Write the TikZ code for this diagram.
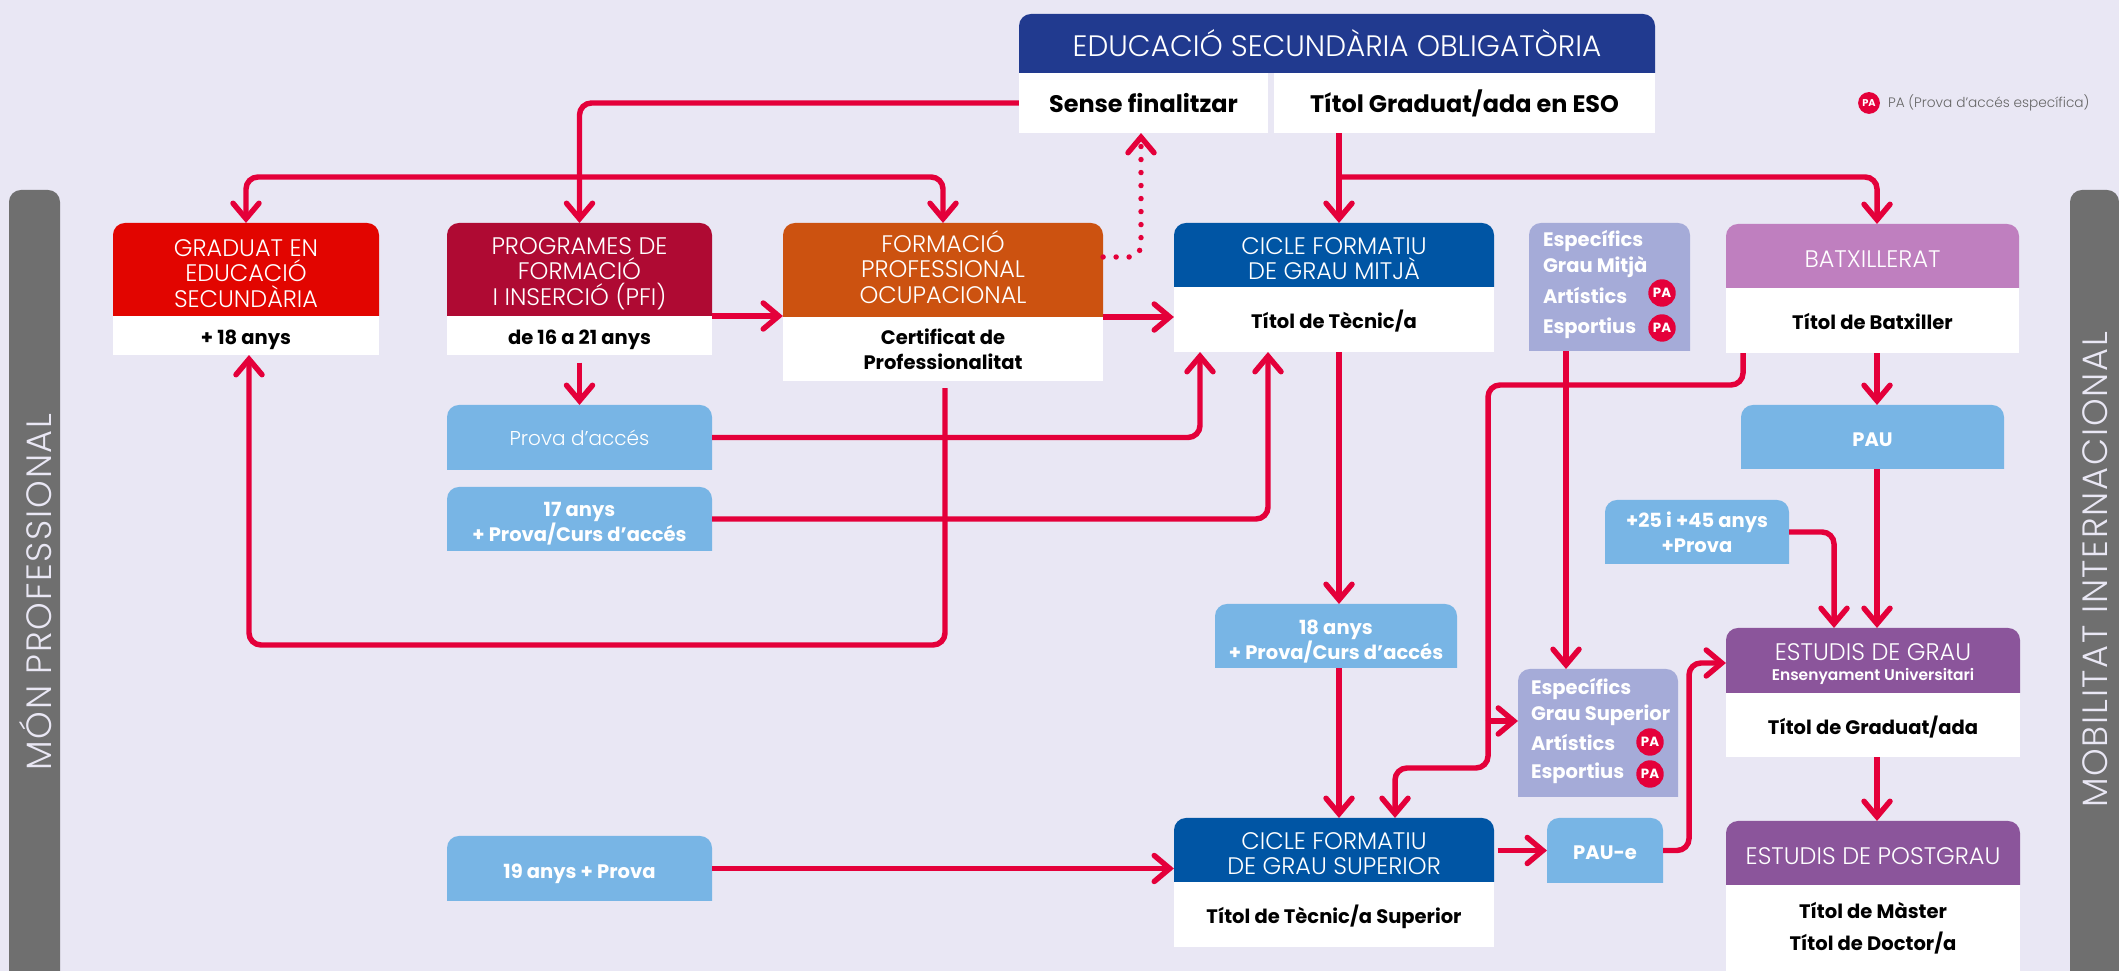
\documentclass[tikz,border=0pt]{standalone}
\usepackage{fontspec}
\setmainfont{Poppins}
\newfontfamily\thinfont{Poppins Light}
\newfontfamily\sidefont[LetterSpace=5]{Poppins Light}
\newcommand*{\headfont}{\thinfont\fontsize{6.8}{7.2}\selectfont}
\newcommand*{\bodyfont}{\bfseries\fontsize{5.55}{7.2}\selectfont}
\definecolor{page}{HTML}{E9E7F4}
\definecolor{bar}{HTML}{6F6F6F}
\definecolor{link}{HTML}{E4003A}
\definecolor{eso}{HTML}{213A8F}
\definecolor{graduat}{HTML}{E20500}
\definecolor{pfi}{HTML}{AF0A33}
\definecolor{ocupa}{HTML}{CC5210}
\definecolor{cicle}{HTML}{0055A4}
\definecolor{espec}{HTML}{A5ABD8}
\definecolor{batx}{HTML}{BF7FBF}
\definecolor{estudis}{HTML}{8B559B}
\definecolor{acces}{HTML}{78B5E5}
\usetikzlibrary{arrows.meta}
\tikzstyle{base}=[inner sep=0pt, outer sep=0pt]
\tikzset{span/.style n args={4}{minimum width={(#3-#1)*0.28453pt}, minimum height={(#4-#2)*0.28453pt}, at={({(#1+#3)/2},{(#2+#4)/2})}}}
\tikzstyle{whitebox}=[base, fill=white, text=black, align=center, font=\bodyfont]
\tikzstyle{lowered}=[text height=5.2pt, text depth=0pt]
\tikzstyle{overhead}=[base, text=white, align=center, font=\headfont]
\tikzstyle{overbody}=[base, text=white, align=center, font=\bodyfont]
\tikzstyle{conn}=[link, line width=1.55pt, rounded corners=3.4pt]
\tikzstyle{arrow}=[conn, -{Straight Barb[length=4.4pt, width=7.4pt, line cap=round]}]
\tikzstyle{dots}=[arrow, line cap=round, dash pattern=on 0pt off 3.7pt]
\tikzstyle{espline}=[base, anchor=west, text=white, align=left, font=\bodyfont]
\tikzstyle{badge}=[base, circle, fill=link, text=white, minimum size=7.8pt, font=\bfseries\fontsize{3.8}{4}\selectfont]
\tikzstyle{sidetext}=[base, rotate=90, text=page, font=\sidefont\fontsize{10}{12}\selectfont]
% name, colour, left, top, right, bottom, font, text
\newcommand*{\headbox}[8]{
    \fill [#2] (#3,#6) [rounded corners=3.4pt] -- (#3,#4) -- (#5,#4) [sharp corners] -- (#5,#6) -- cycle;
    \node [base, span={#3}{#4}{#5}{#6}, text=white, align=center, font=#7] (#1) {#8};
}
\begin{document}
\begin{tikzpicture}[x=0.01cm, y=-0.01cm]
    \fill [page] (0,0) rectangle (2119,971);
    \path [use as bounding box] (0,0) rectangle (2119,971);

    % side bars
    \headbox{monbar}{bar}{9}{190}{60}{971}{\headfont}{}
    \headbox{mobbar}{bar}{2070}{190}{2119}{971}{\headfont}{}
    \node [sidetext] (montext) at (36,592) {MÓN PROFESSIONAL};
    \node [sidetext] (mobtext) at (2095,570) {MOBILITAT INTERNACIONAL};

    % top
    \headbox{esohead}{eso}{1019}{14}{1655}{73}{\thinfont\fontsize{8.4}{9}\selectfont}{EDUCACIÓ SECUNDÀRIA OBLIGATÒRIA}
    \node [whitebox, span={1019}{73}{1268}{133}, font=\bfseries\fontsize{6.8}{8}\selectfont] (sense) {Sense finalitzar};
    \node [whitebox, span={1274}{73}{1655}{133}, font=\bfseries\fontsize{6.8}{8}\selectfont] (titol) {Títol Graduat/ada en ESO};
    \node [badge, minimum size=6.2pt, font=\bfseries\fontsize{2.8}{3}\selectfont] (legbadge) at (1869,103) {PA};
    \node [base, anchor=west, text=black!60, font=\thinfont\fontsize{3.9}{5}\selectfont] (legtext) at (1888,103) {PA (Prova d’accés específica)};

    % first row
    \headbox{ges}{graduat}{113}{223}{379}{316}{\headfont}{}
    \node [overhead] (gestext) at (246,273.5) {GRADUAT EN\\EDUCACIÓ\\SECUNDÀRIA};
    \node [whitebox, lowered, span={113}{316}{379}{355}] (gesbody) {+ 18 anys};
    \headbox{pfihead}{pfi}{447}{223}{712}{316}{\headfont}{}
    \node [overhead] (pfitext) at (579.5,273.5) {PROGRAMES DE\\FORMACIÓ\\I INSERCIÓ (PFI)};
    \node [whitebox, lowered, span={447}{316}{712}{355}] (pfibody) {de 16 a 21 anys};
    \headbox{fpo}{ocupa}{783}{223}{1103}{317}{\headfont}{}
    \node [overhead] (fpotext) at (943,267) {FORMACIÓ\\PROFESSIONAL\\OCUPACIONAL};
    \node [whitebox, span={783}{317}{1103}{381}] (fpobody) {Certificat de\\Professionalitat};
    \headbox{cgm}{cicle}{1174}{223}{1494}{287}{\headfont}{}
    \node [overhead] (cgmtext) at (1334,258.4) {CICLE FORMATIU\\DE GRAU MITJÀ};
    \node [whitebox, lowered, span={1174}{287}{1494}{352}] (cgmbody) {Títol de Tècnic/a};
    \headbox{espgm}{espec}{1529}{223}{1690}{351}{\bodyfont}{}
    \node [espline] (espgmtext) at (1543,254) {Específics\\Grau Mitjà};
    \node [espline] (espgmart) at (1543,295) {Artístics};
    \node [espline] (espgmesp) at (1543,328) {Esportius};
    \node [badge] (espgmpa) at (1662,293) {PA};
    \node [badge] (espgmpb) at (1662,328) {PA};
    \headbox{batxhead}{batx}{1726}{224}{2019}{288}{\headfont}{}
    \node [overhead] (batxtext) at (1872.5,259) {BATXILLERAT};
    \node [whitebox, lowered, span={1726}{288}{2019}{353}] (batxbody) {Títol de Batxiller};

    % access
    \headbox{prova}{acces}{447}{405}{712}{470}{\thinfont\fontsize{5.7}{7.2}\selectfont}{Prova d’accés}
    \headbox{anys}{acces}{447}{487}{712}{551}{\bodyfont}{}
    \node [overbody] (anystext) at (579.5,524) {17 anys\\+ Prova/Curs d’accés};
    \headbox{pau}{acces}{1741}{405}{2004}{469}{\bodyfont}{}
    \node [overbody] (pautext) at (1872.5,440) {PAU};
    \headbox{majors}{acces}{1605}{500}{1789}{564}{\bodyfont}{+25 i +45 anys\\+Prova}
    \headbox{divuit}{acces}{1215}{604}{1457}{668}{\bodyfont}{}
    \node [overbody] (divuittext) at (1336,641.5) {18 anys\\+ Prova/Curs d’accés};
    \headbox{dinou}{acces}{447}{836}{712}{901}{\bodyfont}{}
    \node [overbody] (dinoutext) at (579.5,874) {19 anys + Prova};
    \headbox{paue}{acces}{1547}{818}{1663}{883}{\bodyfont}{}
    \node [overbody] (pauetext) at (1605,853) {PAU-e};

    % second row
    \headbox{espgs}{espec}{1518}{669}{1678}{797}{\bodyfont}{}
    \node [espline] (espgstext) at (1531,702) {Específics\\Grau Superior};
    \node [espline] (espgsart) at (1531,742) {Artístics};
    \node [espline] (espgsesp) at (1531,773) {Esportius};
    \node [badge] (espgspa) at (1650,742) {PA};
    \node [badge] (espgspb) at (1650,774) {PA};
    \headbox{cgs}{cicle}{1174}{818}{1494}{882}{\headfont}{}
    \node [overhead] (cgstext) at (1334,853.4) {CICLE FORMATIU\\DE GRAU SUPERIOR};
    \node [whitebox, lowered, span={1174}{882}{1494}{947}] (cgsbody) {Títol de Tècnic/a Superior};
    \headbox{grau}{estudis}{1726}{628}{2020}{693}{\headfont}{}
    \node [overhead] (grautext) at (1873,664) {ESTUDIS DE GRAU\\[-1.6pt]{\bfseries\fontsize{4.4}{5}\selectfont Ensenyament Universitari}};
    \node [whitebox, lowered, span={1726}{693}{2020}{757}] (graubody) {Títol de Graduat/ada};
    \headbox{post}{estudis}{1726}{821}{2020}{885}{\headfont}{}
    \node [overhead] (posttext) at (1873,856) {ESTUDIS DE POSTGRAU};
    \node [whitebox, span={1726}{885}{2020}{971}, font=\bfseries\fontsize{5.55}{9.2}\selectfont] (postbody) {Títol de Màster\\Títol de Doctor/a};

    % connectors
    \coordinate (sensesplit) at (579,177);
    \coordinate (esosplit) at (1339,177);
    \coordinate (fpoturn) at (945,645);
    \coordinate (gesup) at (249,645);
    \coordinate (dotturn) at (1141,257);
    \coordinate (provaup) at (1200,352);
    \coordinate (anysup) at (1268,352);
    \coordinate (batxturn) at (1743,385);
    \coordinate (midturn) at (1488,385);
    \coordinate (midlow) at (1488,768);
    \coordinate (midsplit) at (1488,721);
    \coordinate (cgsin) at (1395,768);
    \coordinate (especline) at (1566,669);
    \coordinate (pauturn) at (1689,663);
    \coordinate (rightline) at (1877,224);
    \coordinate (majorsin) at (1834,628);

    \draw [arrow] (sense.west) -| (pfihead.north);
    \draw [arrow] (sensesplit) -| (ges.north);
    \draw [arrow] (sensesplit) -| (fpo.north);
    \draw [dots] (fpo.east |- dotturn) -- (dotturn) -- (dotturn |- sense.south);
    \draw [arrow] (esosplit |- titol.south) -- (esosplit |- cgm.north);
    \draw [arrow] (esosplit) -| (rightline);
    \draw [arrow] (pfihead.south east) -- (pfihead.south east -| fpo.west);
    \draw [arrow] (fpo.south east) -- (fpo.south east -| cgm.west);
    \draw [arrow, shorten <=2.2pt] (pfibody.south) -- (prova.north);
    \draw [arrow] (prova.east) -| (provaup);
    \draw [arrow] (anys.east) -| (anysup);
    \draw [arrow, shorten <=2pt] (fpoturn |- fpobody.south) -- (fpoturn) -- (gesup) -- (gesup |- gesbody.south);
    \draw [arrow] (esosplit |- cgmbody.south) -- (esosplit |- divuit.north);
    \draw [arrow] (esosplit |- divuit.south) -- (esosplit |- cgs.north);
    \draw [conn] (batxturn |- batxbody.south) -- (batxturn) -- (midturn) -- (midsplit);
    \draw [arrow] (midsplit) -- (midlow) -- (cgsin) -- (cgsin |- cgs.north);
    \draw [arrow] (midsplit) -- (midsplit -| espgs.west);
    \draw [arrow] (especline |- espgm.south) -- (especline);
    \draw [arrow] (dinou.east) -- (dinou.east -| cgs.west);
    \draw [arrow, shorten <=1pt] (cgs.east |- paue.west) -- (paue.west);
    \draw [arrow] (paue.east) -- (paue.east -| pauturn) -- (pauturn) -- (pauturn -| grau.west);
    \draw [arrow] (rightline |- batxbody.south) -- (rightline |- pau.north);
    \draw [arrow] (rightline |- pau.south) -- (rightline |- grau.north);
    \draw [arrow] (majors.east) -| (majorsin);
    \draw [arrow] (rightline |- graubody.south) -- (rightline |- post.north);
\end{tikzpicture}
\end{document}
